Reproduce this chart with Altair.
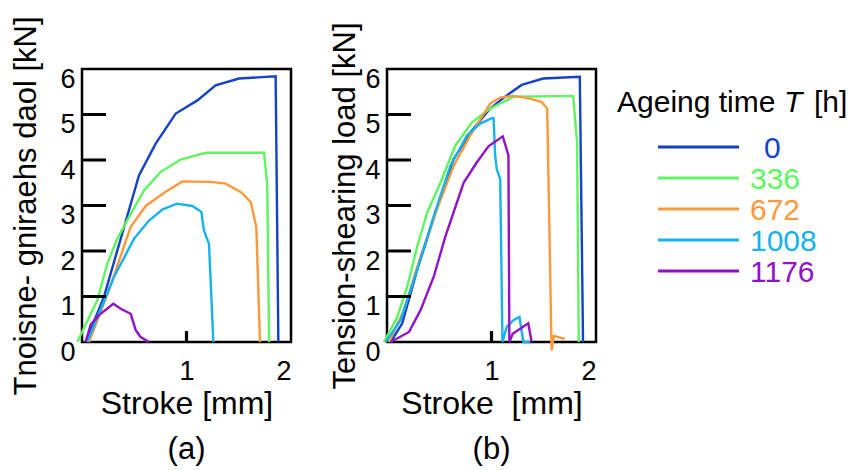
import altair as alt
import pandas as pd

FONT = "Liberation Sans"

# series (ageing time T [h]) and colours
series = ["0", "336", "672", "1008", "1176"]
colors = ["#1441c9", "#5ef55e", "#fd993a", "#16b2ef", "#9212c6"]

# ---- panel (a) ----
a0_x = [0.035, 0.21, 0.545, 0.705, 0.897, 1.104, 1.279, 1.502, 1.853, 1.879]
a0_y = [0, 0.99, 3.66, 4.36, 5.02, 5.31, 5.64, 5.79, 5.84, 0]
a336_x = [-0.045, 0.147, 0.242, 0.338, 0.45, 0.593, 0.753, 0.944, 1.184, 1.742, 1.773, 1.79]
a336_y = [0, 0.92, 1.72, 2.27, 2.75, 3.33, 3.74, 4.01, 4.16, 4.16, 3.44, 0]
a672_x = [0.067, 0.258, 0.466, 0.61, 0.8, 0.96, 1.231, 1.375, 1.518, 1.614, 1.668, 1.703]
a672_y = [0, 1.14, 2.53, 2.99, 3.30, 3.53, 3.52, 3.48, 3.30, 3.08, 2.53, 0]
a1008_x = [0.05, 0.306, 0.498, 0.641, 0.769, 0.906, 1.056, 1.142, 1.167, 1.215, 1.257]
a1008_y = [0, 1.43, 2.27, 2.67, 2.91, 3.04, 2.99, 2.86, 2.45, 2.16, 0]
a1176_x = [0.035, 0.083, 0.163, 0.3, 0.37, 0.466, 0.514, 0.561, 0.641]
a1176_y = [0, 0.38, 0.59, 0.84, 0.73, 0.62, 0.26, 0.11, 0]

# ---- panel (b) ----
b0_x = [0.035, 0.146, 0.289, 0.463, 0.638, 0.813, 0.987, 1.146, 1.289, 1.495, 1.845, 1.876]
b0_y = [0, 0.41, 1.59, 2.84, 4.02, 4.65, 5.13, 5.42, 5.65, 5.79, 5.83, 0]
b336_x = [-0.029, 0.098, 0.194, 0.289, 0.384, 0.511, 0.654, 0.813, 0.987, 1.21, 1.781, 1.819, 1.835]
b336_y = [0, 0.55, 1.22, 2.10, 2.84, 3.50, 4.32, 4.83, 5.13, 5.39, 5.41, 4.39, 0]
b672_x = [0.019, 0.162, 0.321, 0.479, 0.638, 0.797, 0.987, 1.083, 1.21, 1.368, 1.479, 1.533, 1.575, 1.597, 1.702]
b672_y = [0, 0.70, 1.88, 2.92, 3.87, 4.54, 5.24, 5.37, 5.41, 5.35, 5.28, 5.13, -0.18, 0.13, 0.07]
b1008_x = [-0.012, 0.13, 0.289, 0.448, 0.606, 0.765, 0.892, 1.003, 1.02, 1.035, 1.05, 1.083, 1.105, 1.146, 1.21, 1.267, 1.305, 1.368]
b1008_y = [0, 0.48, 1.59, 2.77, 3.87, 4.54, 4.80, 4.92, 4.92, 4.10, 3.80, 3.58, 0, 0.33, 0.48, 0.55, 0, 0]
b1176_x = [0.035, 0.21, 0.321, 0.448, 0.559, 0.733, 0.86, 0.971, 1.108, 1.162, 1.171, 1.203, 1.352, 1.384]
b1176_y = [0, 0.22, 0.70, 1.44, 2.32, 3.50, 3.95, 4.30, 4.52, 4.10, 0, 0.18, 0.41, 0]

y_tick_values = [0, 1, 2, 3, 4, 5, 6]
y_inner_ticks = [1, 2, 3, 4, 5]
x_tick_values = [1, 2]
x_inner_ticks = [1]

W, H = 209, 273


def frame(xs_list, ys_list):
    rows = []
    for s, xs, ys in zip(series, xs_list, ys_list):
        for i, (xv, yv) in enumerate(zip(xs, ys)):
            rows.append({"T": s, "i": i, "x": xv, "y": yv})
    return pd.DataFrame(rows)


df_a = frame([a0_x, a336_x, a672_x, a1008_x, a1176_x], [a0_y, a336_y, a672_y, a1008_y, a1176_y])
df_b = frame([b0_x, b336_x, b672_x, b1008_x, b1176_x], [b0_y, b336_y, b672_y, b1008_y, b1176_y])

color_enc = alt.Color("T:N", scale=alt.Scale(domain=series, range=colors), legend=None)


def panel(df, ytitle, xtitle, caption, ytitle_pad):
    xscale = alt.Scale(domain=[0, 2], nice=False, zero=False)
    yscale = alt.Scale(domain=[0, 6], nice=False)
    ax_x = alt.Axis(values=x_tick_values, title=xtitle, labelPadding=16, titlePadding=4,
                    ticks=False, domain=False, grid=False, format="d", titleFontSize=32)
    ax_y = alt.Axis(values=y_tick_values, title=ytitle, labelPadding=7, titlePadding=ytitle_pad,
                    ticks=False, domain=False, grid=False, format="d", labelOffset=10)
    lines = alt.Chart(df).mark_line(strokeWidth=2.4, clip=False).encode(
        x=alt.X("x:Q", scale=xscale, axis=ax_x),
        y=alt.Y("y:Q", scale=yscale, axis=ax_y),
        color=color_enc,
        detail="T:N",
        order="i:Q",
    )
    yt = alt.Chart(pd.DataFrame({"y": y_inner_ticks})).mark_rule(color="black", strokeWidth=3).encode(
        y=alt.Y("y:Q", scale=yscale, axis=ax_y), x=alt.value(0), x2=alt.value(24)
    )
    xt_df = pd.DataFrame({"x": x_inner_ticks, "y0": [0.0] * len(x_inner_ticks),
                          "y1": [0.24] * len(x_inner_ticks)})
    xt = alt.Chart(xt_df).mark_rule(color="black", strokeWidth=3.2).encode(
        x=alt.X("x:Q", scale=xscale, axis=ax_x),
        y=alt.Y("y0:Q", scale=yscale, axis=ax_y),
        y2="y1:Q",
    )
    return alt.layer(lines, yt, xt).properties(
        width=W, height=H,
        title=alt.TitleParams(caption, orient="bottom", fontSize=31, font=FONT,
                              fontWeight="normal", color="black", offset=16),
    )


pa = panel(df_a, "Tnoisne- gniraehs daol [kN]", "Stroke [mm]", "(a)", 17)
pb = panel(df_b, "Tension-shearing load [kN]", "Stroke\u00a0 [mm]", "(b)", 3)

# ---- legend panel (built from the series lists) ----
leg_df = pd.DataFrame({"T": series, "label": series, "row": list(range(len(series)))})
ly = alt.Y("row:Q", scale=alt.Scale(domain=[-2.516, 6.29], reverse=True, nice=False, zero=False), axis=None)
leg_lines = alt.Chart(leg_df).mark_rule(strokeWidth=3).encode(
    y=ly, x=alt.value(-34), x2=alt.value(47), color=color_enc
)
leg_text = alt.Chart(leg_df).transform_filter("datum.row > 0").mark_text(
    align="left", baseline="middle", fontSize=30, font=FONT, dy=2
).encode(y=ly, x=alt.value(58), text="label:N", color=color_enc)
leg_text0 = alt.Chart(leg_df).transform_filter("datum.row == 0").mark_text(
    align="left", baseline="middle", fontSize=30, font=FONT, dy=2
).encode(y=ly, x=alt.value(72), text="label:N", color=color_enc)

title_parts = pd.DataFrame({"t": ["Ageing time"]})
TX = -75
t1 = alt.Chart(title_parts).mark_text(align="left", baseline="middle", fontSize=30, font=FONT, color="black").encode(
    x=alt.value(TX), y=alt.value(34), text="t:N")
t2 = alt.Chart(title_parts).mark_text(align="left", baseline="middle", fontSize=30, font=FONT, color="black",
                                      fontStyle="italic", text="T").encode(x=alt.value(TX + 167), y=alt.value(34))
t3 = alt.Chart(title_parts).mark_text(align="left", baseline="middle", fontSize=30, font=FONT, color="black",
                                      text="[h]").encode(x=alt.value(TX + 197), y=alt.value(34))
legend_panel = alt.layer(leg_lines, leg_text, leg_text0, t1, t2, t3).properties(
    width=160, height=H, view=alt.ViewBackground(stroke="transparent", strokeWidth=0)
)

chart = alt.hconcat(pa, pb, legend_panel, spacing=96, bounds="flush").properties(
    padding={"left": 9, "top": 14, "right": 0, "bottom": 0}, background="white"
).configure_view(
    stroke="black", strokeWidth=2.5
).configure_axis(
    labelFont=FONT, titleFont=FONT, labelFontSize=27, titleFontSize=31,
    titleFontWeight="normal", labelColor="black", titleColor="black",
)

chart.save("out.html", embed_options={"renderer": "svg", "actions": False})
